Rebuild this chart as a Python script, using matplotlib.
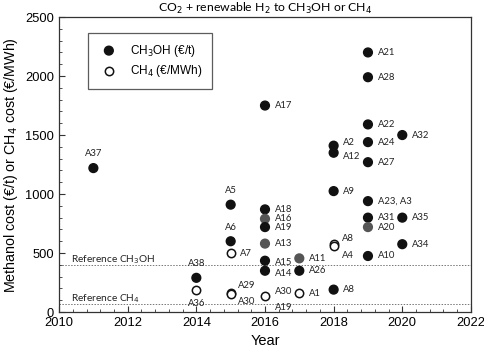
import numpy as np
import matplotlib.pyplot as plt
from matplotlib.ticker import MultipleLocator

# CH3OH points (EUR/t)
meoh_year = [2011, 2015, 2015, 2014, 2016, 2016, 2016, 2016, 2016, 2016, 2016,
             2017, 2017, 2018, 2018, 2018, 2018, 2019, 2019, 2019, 2019, 2019,
             2019, 2019, 2019, 2019, 2020, 2020, 2020]
meoh_cost = [1220, 910, 600, 290, 1750, 870, 790, 720, 580, 435, 350,
             455, 350, 1410, 1350, 1025, 190, 2200, 1990, 1590, 1440, 1270,
             940, 800, 720, 475, 1500, 800, 575]
meoh_label = ["A37", "A5", "A6", "A38", "A17", "A18", "A16", "A19", "A13", "A15", "A14",
              "A11", "A26", "A2", "A12", "A9", "A8", "A21", "A28", "A22", "A24", "A27",
              "A23, A3", "A31", "A20", "A10", "A32", "A35", "A34"]
meoh_grey = ["A16", "A13", "A11", "A20"]

# CH4 points (EUR/MWh)
ch4_year = [2015, 2014, 2015, 2015, 2016, 2017, 2018, 2018]
ch4_cost = [500, 190, 165, 150, 135, 160, 580, 560]
ch4_label = ["A7", "A36", "A29", "A30", "A30", "A1", "A8", "A4"]

ref_meoh = 400
ref_ch4 = 70

# label offsets in points (dx, dy, ha)
above = ["A37", "A5", "A6", "A38"]
meoh_off = {"A2": (7, 2), "A12": (7, -3), "A15": (7, -1), "A14": (7, -2)}
offsets = {"A36": (0, -10, "center"), "A29": (5, 5, "left"), "A30": (5, -5, "left"),
           "A8o": (6, 4, "left"), "A4": (6, -7, "left")}

plt.rcParams['font.family'] = ['Liberation Sans', 'DejaVu Sans']
lab_font = ['Lato', 'DejaVu Sans']
fs = 6.8

fig = plt.figure(figsize=(4.84, 3.55), dpi=100)
ax = fig.add_axes([0.122, 0.121, 0.851, 0.831])

cols = ['#555555' if l in meoh_grey else '#111111' for l in meoh_label]
ax.scatter(meoh_year, meoh_cost, s=40, c=cols, zorder=3, label="CH$_3$OH (€/t)")
ax.scatter(ch4_year, ch4_cost, s=36, facecolors='white', edgecolors='#111111',
           linewidths=1.1, zorder=3, label="CH$_4$ (€/MWh)")

ax.axhline(ref_meoh, color='#777777', ls=(0, (1.5, 1.5)), lw=0.7, zorder=1)
ax.axhline(ref_ch4, color='#777777', ls=(0, (1.5, 1.5)), lw=0.7, zorder=1)
ax.text(2010.35, ref_meoh + 25, "Reference CH$_3$OH", fontsize=7.3, family=lab_font, color='#222222')
ax.text(2010.35, ref_ch4 + 25, "Reference CH$_4$", fontsize=7.3, family=lab_font, color='#222222')

for x, y, l in zip(meoh_year, meoh_cost, meoh_label):
    if l in above:
        ax.annotate(l, (x, y), xytext=(0, 7), textcoords='offset points', ha='center',
                    va='bottom', fontsize=fs, family=lab_font, color='#222222')
    else:
        dx, dy = meoh_off.get(l, (7, 0))
        ax.annotate(l, (x, y), xytext=(dx, dy), textcoords='offset points', ha='left',
                    va='center', fontsize=fs, family=lab_font, color='#222222')

for x, y, l in zip(ch4_year, ch4_cost, ch4_label):
    key = "A8o" if l == "A8" else l
    if l == "A30" and x == 2016:
        dx, dy, ha = (7, 3, "left")
        ax.annotate("A19", (x, y), xytext=(7, -8), textcoords='offset points', ha='left',
                    va='center', fontsize=fs, family=lab_font, color='#222222')
    else:
        dx, dy, ha = offsets.get(key, (7, 0, "left"))
    ax.annotate(l, (x, y), xytext=(dx, dy), textcoords='offset points', ha=ha,
                va='center', fontsize=fs, family=lab_font, color='#222222')

ax.set_xlim(2010, 2022)
ax.set_ylim(0, 2500)
ax.xaxis.set_major_locator(MultipleLocator(2))
ax.xaxis.set_minor_locator(MultipleLocator(0.4))
ax.yaxis.set_major_locator(MultipleLocator(500))
ax.yaxis.set_minor_locator(MultipleLocator(100))
ax.tick_params(which='both', direction='in', top=False, right=False, labelsize=9.3,
               color='#333333')
ax.tick_params(which='major', length=4)
ax.tick_params(which='minor', length=2.5)
for s in ax.spines.values():
    s.set_color('#333333')
    s.set_linewidth(0.9)

ax.set_xlabel("Year", fontsize=10.5)
ax.set_ylabel("Methanol cost (€/t) or CH$_4$ cost (€/MWh)", fontsize=10.3)
ax.set_title("CO$_2$ + renewable H$_2$ to CH$_3$OH or CH$_4$", fontsize=8.8, family=lab_font, pad=4)

leg = ax.legend(loc='upper left', bbox_to_anchor=(0.055, 0.965), fancybox=False,
                edgecolor='#333333', fontsize=8.5, handletextpad=0.8, borderpad=0.8,
                labelspacing=0.4)
leg.get_frame().set_linewidth(0.9)

fig.savefig("out.png", dpi=100)
